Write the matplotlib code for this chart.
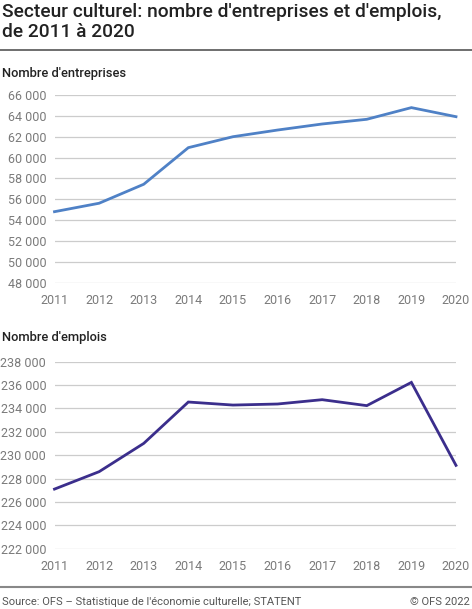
import matplotlib
matplotlib.use("Agg")
import matplotlib.pyplot as plt
from matplotlib.ticker import FuncFormatter, MultipleLocator
from matplotlib.lines import Line2D

plt.rcParams['font.family'] = ['Roboto', 'DejaVu Sans']

years = [2011, 2012, 2013, 2014, 2015, 2016, 2017, 2018, 2019, 2020]
entreprises = [54810, 55620, 57440, 60950, 62000, 62640, 63220, 63670, 64790, 63920]
emplois = [227100, 228590, 231010, 234550, 234290, 234380, 234750, 234240, 236230, 229130]

title = "Secteur culturel: nombre d'entreprises et d'emplois,\nde 2011 à 2020"
sub1 = "Nombre d'entreprises"
sub2 = "Nombre d'emplois"
source = "Source: OFS – Statistique de l'économie culturelle; STATENT"
copyright_txt = "© OFS 2022"

W, H = 472, 609
fig = plt.figure(figsize=(W / 100, H / 100), dpi=100)


def px_axes(left, top, right, bottom):
    # place an axes box using pixel edges measured from the top-left corner
    return fig.add_axes([left / W, 1 - bottom / H, (right - left) / W, (bottom - top) / H])


def thousands(v, pos):
    return f"{int(v):,}".replace(",", " ")


def style(ax, lo, hi, step):
    ax.set_xlim(years[0], years[-1])
    ax.set_ylim(lo, hi)
    ax.yaxis.set_major_locator(MultipleLocator(step))
    ax.yaxis.set_major_formatter(FuncFormatter(thousands))
    ax.set_xticks(years)
    ax.grid(axis='y', color='#cccccc', linewidth=0.9)
    ax.set_axisbelow(True)
    for s in ax.spines.values():
        s.set_visible(False)
    ax.tick_params(axis='both', length=0, labelsize=9.0, labelcolor='#7a7a7a')
    ax.tick_params(axis='y', pad=6)
    ax.tick_params(axis='x', pad=8)


ax1 = px_axes(54.5, 95, 456, 282.7)
ax1.plot(years, entreprises, color='#4f81c6', linewidth=2, clip_on=False, solid_joinstyle='miter')
style(ax1, 48000, 66000, 2000)

ax2 = px_axes(54.5, 361.7, 456, 548.7)
ax2.plot(years, emplois, color='#3b2e8c', linewidth=2, clip_on=False, solid_joinstyle='miter')
style(ax2, 222000, 238000, 2000)

fig.text(2 / W, 1 - 3 / H, title, ha='left', va='top', fontsize=13.8, fontweight='medium',
         color='#222222', linespacing=1.15)
fig.add_artist(Line2D([0, 1], [1 - 49.5 / H, 1 - 49.5 / H], color='#555555', linewidth=1.2))

fig.text(2 / W, 1 - 73 / H, sub1, ha='left', va='center', fontsize=9.3, fontweight='medium', color='#222222')
fig.text(2 / W, 1 - 338 / H, sub2, ha='left', va='center', fontsize=9.3, fontweight='medium', color='#222222')

fig.add_artist(Line2D([0, 1], [1 - 587 / H, 1 - 587 / H], color='#888888', linewidth=1.5))
fig.text(2 / W, 1 - 602 / H, source, ha='left', va='center', fontsize=8, color='#555555')
fig.text(470 / W, 1 - 602 / H, copyright_txt, ha='right', va='center', fontsize=8, color='#555555')

fig.savefig("out.png", dpi=100)
